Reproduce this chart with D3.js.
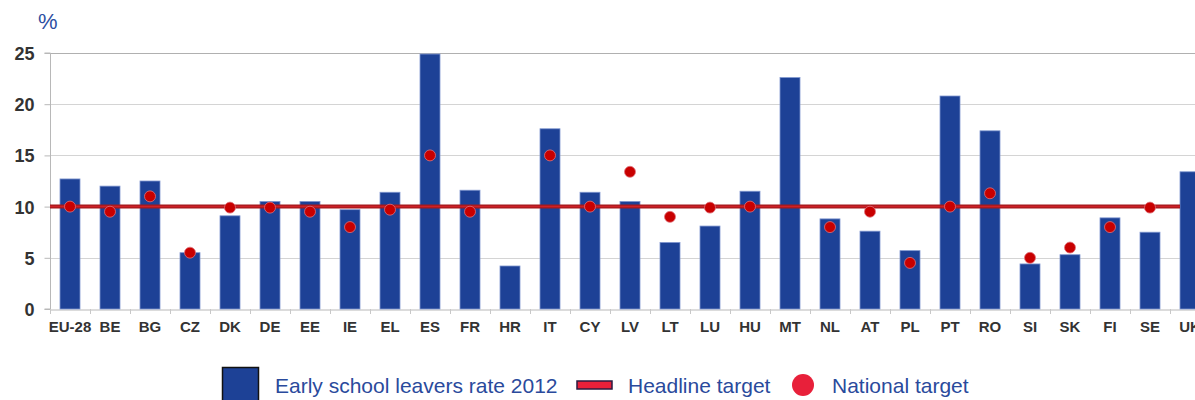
<!DOCTYPE html>
<html>
<head>
<meta charset="utf-8">
<script src="https://cdn.jsdelivr.net/npm/d3@7"></script>
<style>
  body { margin: 0; background: #fff; }
  svg { display: block; font-family: "Liberation Sans", Arial, sans-serif; }
</style>
</head>
<body>
<div id="plot_area"></div>
<script>
// data
var countries = ['EU-28','BE','BG','CZ','DK','DE','EE','IE','EL','ES','FR','HR','IT','CY','LV',
  'LT','LU','HU','MT','NL','AT','PL','PT','RO','SI','SK','FI','SE','UK']
var leavers2012 = [12.7,12.0,12.5,5.5,9.1,10.5,10.5,9.7,11.4,24.9,11.6,4.2,17.6,11.4,10.5,
  6.5,8.1,11.5,22.6,8.8,7.6,5.7,20.8,17.4,4.4,5.3,8.9,7.5,13.4]
var nationalTarget = [10,9.5,11,5.5,9.9,9.9,9.5,8,9.7,15,9.5,null,15,10,13.4,
  9,9.9,10,null,8,9.5,4.5,10,11.3,5,6,8,9.9,null]
var headline = 10
var yTicks = [0,5,10,15,20,25]

var width = 1195, height = 400
var margin = {top: 53, left: 50, bottom: 91}

var Svg = d3.select('#plot_area')
  .append("svg")
  .attr("width", width)
  .attr("height", height)

// 40px per country, last band runs past the right edge
var x = d3.scaleBand()
  .domain(countries)
  .range([margin.left, margin.left + countries.length * 40])
  .paddingInner(0.5)
  .paddingOuter(0.25)

var y = d3.scaleLinear()
  .domain([0, 25])
  .range([height - margin.bottom, margin.top])

// gridlines
Svg.append("g")
  .selectAll("line")
  .data(yTicks.slice(1))
  .enter().append("line")
  .attr("x1", margin.left).attr("x2", width)
  .attr("y1", function(d) { return Math.round(y(d)) + 0.5 })
  .attr("y2", function(d) { return Math.round(y(d)) + 0.5 })
  .attr("stroke", function(d) { return d === 25 ? "#b0b0b0" : "#d4d4d4" })
  .attr("stroke-width", 1)

// y axis
var yAxis = Svg.append("g")
  .attr("transform", "translate(" + (margin.left + 0.5) + ",0)")
  .call(d3.axisLeft(y).tickValues(yTicks).tickSize(6).tickPadding(10))
yAxis.select(".domain").attr("stroke", "#b8b8b8").attr("d", "M-6," + y(25) + "H0V" + y(0) + "H-6")
yAxis.selectAll(".tick line").attr("stroke", "#b8b8b8")
yAxis.selectAll(".tick text")
  .attr("fill", "#333")
  .style("font-size", "18px")
  .style("font-weight", "bold")
  .attr("dy", "0.36em")

// x axis
var xAxis = Svg.append("g")
  .attr("transform", "translate(0," + (Math.round(y(0)) + 0.5) + ")")
  .call(d3.axisBottom(x).tickSize(0).tickPadding(12))
xAxis.select(".domain").attr("stroke", "#b8b8b8")
xAxis.selectAll(".tick text")
  .attr("fill", "#333")
  .style("font-size", "15px")
  .style("font-weight", "bold")

// band separators
var half = (x.step() - x.bandwidth()) / 2
Svg.append("g")
  .selectAll("line")
  .data(countries)
  .enter().append("line")
  .attr("x1", function(d) { return Math.round(x(d) - half) + 0.5 })
  .attr("x2", function(d) { return Math.round(x(d) - half) + 0.5 })
  .attr("y1", y(0)).attr("y2", y(0) + 5)
  .attr("stroke", "#c8c8c8")

// bars
var bars = Svg.append("g")
bars.selectAll("rect")
  .data(countries)
  .enter().append("rect")
  .attr("x", function(d) { return x(d) })
  .attr("width", x.bandwidth())
  .attr("y", function(d, i) { return y(leavers2012[i]) })
  .attr("height", function(d, i) { return y(0) - y(leavers2012[i]) })
  .attr("fill", "#1d4196")
  .attr("stroke", "#7f96cf")
  .attr("stroke-width", 0.8)

// headline target (stops at the last bar)
var lineEnd = x(countries[countries.length - 1])
Svg.append("line")
  .attr("x1", margin.left).attr("x2", lineEnd)
  .attr("y1", y(headline)).attr("y2", y(headline))
  .attr("stroke", "#a31a1e").attr("stroke-width", 4)
Svg.append("line")
  .attr("x1", margin.left).attr("x2", lineEnd)
  .attr("y1", y(headline)).attr("y2", y(headline))
  .attr("stroke", "#cf2027").attr("stroke-width", 1.5)

// national targets
Svg.append("g")
  .selectAll("circle")
  .data(countries.filter(function(d, i) { return nationalTarget[i] != null }))
  .enter().append("circle")
  .attr("cx", function(d) { return x(d) + x.bandwidth() / 2 })
  .attr("cy", function(d) { return y(nationalTarget[countries.indexOf(d)]) })
  .attr("r", 5.5)
  .attr("fill", "#c80000")
  .attr("stroke", "#e0707a")
  .attr("stroke-width", 0.8)

// unit label
Svg.append("text")
  .attr("x", 38).attr("y", 29)
  .attr("fill", "#2d4fa2")
  .style("font-size", "22px")
  .text("%")

// legend
var lg = Svg.append("g")
lg.append("rect")
  .attr("x", 222.5).attr("y", 367.5).attr("width", 36).attr("height", 36)
  .attr("fill", "#1d4196").attr("stroke", "#111").attr("stroke-width", 1.5)
lg.append("text").attr("x", 275).attr("y", 393)
  .attr("fill", "#2a4a9c").style("font-size", "21px")
  .text("Early school leavers rate 2012")
lg.append("rect")
  .attr("x", 577).attr("y", 381).attr("width", 35).attr("height", 8)
  .attr("fill", "#e8203a").attr("stroke", "#2a1a40").attr("stroke-width", 1.5)
lg.append("text").attr("x", 628).attr("y", 393)
  .attr("fill", "#2a4a9c").style("font-size", "21px")
  .text("Headline target")
lg.append("circle")
  .attr("cx", 803).attr("cy", 385).attr("r", 11)
  .attr("fill", "#e8203a")
lg.append("text").attr("x", 832).attr("y", 393)
  .attr("fill", "#2a4a9c").style("font-size", "21px")
  .text("National target")
</script>
</body>
</html>
